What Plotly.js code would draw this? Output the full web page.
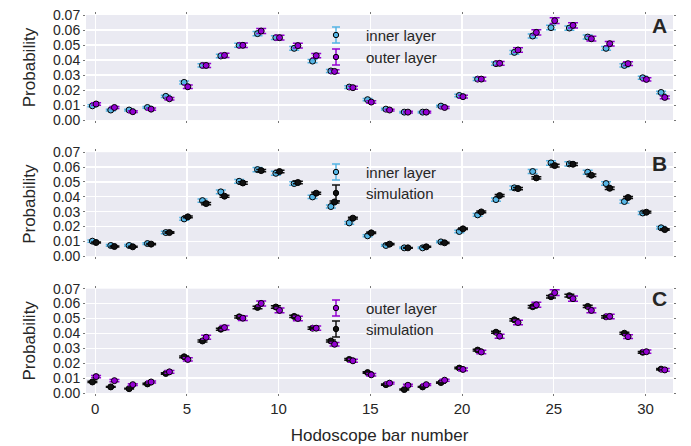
<!DOCTYPE html>
<html>
<head>
<meta charset="utf-8">
<script src="https://cdn.plot.ly/plotly-3.0.1.min.js"></script>
<style>html,body{margin:0;padding:0;background:#fff;}#chart{width:691px;height:446px;}</style>
</head>
<body>
<div id="chart"></div>
<script>
// Hodoscope bar numbers
const bars = [0,1,2,3,4,5,6,7,8,9,10,11,12,13,14,15,16,17,18,19,20,21,22,23,24,25,26,27,28,29,30,31];
const xTicks = [0,5,10,15,20,25,30];
const yTicks = [0,0.01,0.02,0.03,0.04,0.05,0.06,0.07];
const panelLetters = ["A","B","C"];

// Panel A
const innerA = [0.0095,0.0067,0.0067,0.0084,0.0158,0.0251,0.0364,0.0427,0.0498,0.0576,0.0549,0.0478,0.0393,0.0327,0.0220,0.0136,0.0073,0.0053,0.0053,0.0093,0.0164,0.0273,0.0376,0.0451,0.0560,0.0616,0.0613,0.0553,0.0478,0.0364,0.0282,0.0184];
const innerAErr = [0.0007,0.0006,0.0006,0.0006,0.0008,0.0010,0.0011,0.0012,0.0013,0.0014,0.0013,0.0012,0.0011,0.0010,0.0009,0.0007,0.0006,0.0005,0.0005,0.0006,0.0008,0.0010,0.0011,0.0012,0.0014,0.0015,0.0014,0.0013,0.0012,0.0011,0.0010,0.0008];
const outerA = [0.0107,0.0084,0.0056,0.0073,0.0142,0.0222,0.0364,0.0431,0.0498,0.0593,0.0549,0.0496,0.0429,0.0324,0.0216,0.0120,0.0067,0.0053,0.0053,0.0084,0.0156,0.0273,0.0378,0.0467,0.0584,0.0662,0.0631,0.0542,0.0509,0.0376,0.0271,0.0151];
const outerAErr = [0.0008,0.0007,0.0006,0.0007,0.0009,0.0011,0.0013,0.0014,0.0015,0.0017,0.0016,0.0015,0.0014,0.0012,0.0010,0.0008,0.0006,0.0006,0.0006,0.0007,0.0009,0.0012,0.0013,0.0015,0.0017,0.0019,0.0017,0.0016,0.0015,0.0013,0.0011,0.0009];

// Panel B
const innerB = [0.0101,0.0072,0.0072,0.0085,0.0159,0.0251,0.0374,0.0433,0.0504,0.0583,0.0558,0.0489,0.0399,0.0334,0.0224,0.0137,0.0072,0.0056,0.0056,0.0096,0.0166,0.0278,0.0381,0.0460,0.0570,0.0628,0.0621,0.0565,0.0489,0.0368,0.0291,0.0191];
const innerBErr = [0.0007,0.0006,0.0006,0.0006,0.0008,0.0010,0.0011,0.0012,0.0013,0.0014,0.0013,0.0012,0.0011,0.0010,0.0009,0.0007,0.0006,0.0005,0.0005,0.0006,0.0008,0.0010,0.0011,0.0012,0.0014,0.0015,0.0014,0.0013,0.0012,0.0011,0.0010,0.0008];
const simB = [0.0092,0.0065,0.0063,0.0081,0.0159,0.0265,0.0354,0.0404,0.0493,0.0576,0.0570,0.0496,0.0424,0.0365,0.0256,0.0157,0.0081,0.0056,0.0063,0.0090,0.0184,0.0298,0.0408,0.0455,0.0527,0.0610,0.0619,0.0545,0.0457,0.0395,0.0296,0.0179];
const simBErr = [0.0004,0.0003,0.0003,0.0004,0.0005,0.0006,0.0007,0.0007,0.0008,0.0008,0.0008,0.0008,0.0007,0.0007,0.0006,0.0005,0.0004,0.0003,0.0003,0.0004,0.0005,0.0006,0.0007,0.0008,0.0008,0.0009,0.0009,0.0008,0.0008,0.0007,0.0006,0.0005];

// Panel C
const simC = [0.0074,0.0041,0.0029,0.0061,0.0131,0.0243,0.0349,0.0428,0.0511,0.0574,0.0577,0.0514,0.0435,0.0349,0.0225,0.0137,0.0056,0.0023,0.0041,0.0070,0.0167,0.0288,0.0408,0.0491,0.0579,0.0646,0.0653,0.0581,0.0511,0.0401,0.0273,0.0160];
const simCErr = [0.0004,0.0003,0.0003,0.0004,0.0005,0.0006,0.0007,0.0007,0.0008,0.0008,0.0008,0.0008,0.0007,0.0007,0.0006,0.0005,0.0004,0.0003,0.0003,0.0004,0.0005,0.0006,0.0007,0.0008,0.0008,0.0009,0.0009,0.0008,0.0008,0.0007,0.0006,0.0005];
const outerC = [0.0110,0.0083,0.0056,0.0074,0.0142,0.0225,0.0374,0.0439,0.0502,0.0601,0.0554,0.0500,0.0435,0.0327,0.0216,0.0122,0.0066,0.0052,0.0056,0.0086,0.0158,0.0275,0.0381,0.0473,0.0592,0.0673,0.0633,0.0554,0.0514,0.0378,0.0277,0.0155];
const outerCErr = [0.0008,0.0007,0.0006,0.0007,0.0009,0.0011,0.0013,0.0014,0.0015,0.0017,0.0016,0.0015,0.0014,0.0012,0.0010,0.0008,0.0006,0.0006,0.0006,0.0007,0.0009,0.0012,0.0013,0.0015,0.0017,0.0019,0.0017,0.0016,0.0015,0.0013,0.0011,0.0009];

const CYAN = '#55B5E5', PURPLE = '#9400D3', BLACK = '#111111';
const TEXT = '#262626';
const FONT = 'Liberation Sans, Arial, sans-serif';

function series(xs, ys, errs, color, shift, ax) {
  return {
    type: 'scatter', mode: 'markers',
    x: xs.map(v => v + shift), y: ys,
    xaxis: 'x' + ax, yaxis: 'y' + ax,
    marker: {symbol: 'circle', size: 6, color: color, line: {color: '#000', width: 1}},
    error_y: {type: 'data', array: errs, visible: true, color: color, thickness: 1.5, width: 5},
    showlegend: false, hoverinfo: 'x+y'
  };
}

const data = [
  series(bars, innerA, innerAErr, CYAN, -0.15, ''),
  series(bars, outerA, outerAErr, PURPLE, 0.05, ''),
  series(bars, innerB, innerBErr, CYAN, -0.15, '2'),
  series(bars, simB, simBErr, BLACK, 0.05, '2'),
  series(bars, simC, simCErr, BLACK, -0.15, '3'),
  series(bars, outerC, outerCErr, PURPLE, 0.05, '3')
];

const W = 691, H = 446, ML = 86, MR = 18, MT = 15, MB = 53;
const PW = W - ML - MR, PH = H - MT - MB;
const px = x => (x - ML) / PW;
const py = y => (H - MB - y) / PH;

function xaxis(showLabels, anchor) {
  return {
    range: [-0.5, 31.5], tickvals: xTicks, showticklabels: showLabels,
    showgrid: true, gridcolor: '#ffffff', gridwidth: 1.3, zeroline: false,
    ticks: 'outside', ticklen: 2, tickcolor: '#777', mirror: 'ticks', showline: false,
    tickfont: {family: FONT, size: 15, color: TEXT},
    anchor: anchor
  };
}
function yaxis(domain, anchor) {
  return {
    domain: domain, range: [0, 0.07], tickvals: yTicks, tickformat: '.2f',
    showgrid: true, gridcolor: '#ffffff', gridwidth: 1.3, zeroline: false,
    ticks: 'outside', ticklen: 2, tickcolor: '#777', mirror: 'ticks', showline: false,
    tickfont: {family: FONT, size: 14, color: TEXT},
    title: {text: 'Probability', font: {family: FONT, size: 17, color: TEXT}, standoff: 12},
    anchor: anchor
  };
}

const shapes = [];
const annotations = [];
// legend icons (error bar + marker) and labels
const legends = [
  {cy: 35, color: CYAN, label: 'inner layer'},
  {cy: 57, color: PURPLE, label: 'outer layer'},
  {cy: 172, color: CYAN, label: 'inner layer'},
  {cy: 193, color: BLACK, label: 'simulation'},
  {cy: 308, color: PURPLE, label: 'outer layer'},
  {cy: 329, color: BLACK, label: 'simulation'}
];
legends.forEach(l => {
  const cx = 336, h = 8, cw = 4;
  const ln = {color: l.color, width: 1.5};
  shapes.push({type: 'line', xref: 'paper', yref: 'paper', x0: px(cx), x1: px(cx), y0: py(l.cy - h), y1: py(l.cy + h), line: ln});
  shapes.push({type: 'line', xref: 'paper', yref: 'paper', x0: px(cx - cw), x1: px(cx + cw), y0: py(l.cy - h), y1: py(l.cy - h), line: ln});
  shapes.push({type: 'line', xref: 'paper', yref: 'paper', x0: px(cx - cw), x1: px(cx + cw), y0: py(l.cy + h), y1: py(l.cy + h), line: ln});
  shapes.push({type: 'circle', xref: 'paper', yref: 'paper', x0: px(cx - 2.7), x1: px(cx + 2.7), y0: py(l.cy - 2.7), y1: py(l.cy + 2.7), fillcolor: l.color, line: {color: '#000', width: 1}});
  annotations.push({xref: 'paper', yref: 'paper', x: px(364), y: py(l.cy), xanchor: 'left', yanchor: 'middle', text: l.label, showarrow: false,
    font: {family: FONT, size: 15, color: TEXT}});
});
const letterY = [26, 163, 298];
panelLetters.forEach((t, i) => {
  annotations.push({xref: 'paper', yref: 'paper', x: px(669), y: py(letterY[i]), xanchor: 'right', yanchor: 'middle', text: '<b>' + t + '</b>', showarrow: false,
    font: {family: FONT, size: 21, color: TEXT}});
});

const layout = {
  width: W, height: H,
  margin: {l: ML, r: MR, t: MT, b: MB},
  paper_bgcolor: '#ffffff', plot_bgcolor: '#EAEAF2',
  showlegend: false,
  xaxis: xaxis(false, 'y'),
  xaxis2: xaxis(false, 'y2'),
  xaxis3: Object.assign(xaxis(true, 'y3'), {title: {text: 'Hodoscope bar number', font: {family: FONT, size: 17, color: TEXT}, standoff: 13}}),
  yaxis: yaxis([0.722, 1], 'x'),
  yaxis2: yaxis([0.362, 0.637], 'x2'),
  yaxis3: yaxis([0, 0.276], 'x3'),
  shapes: shapes,
  annotations: annotations
};

Plotly.newPlot('chart', data, layout, {displayModeBar: false, staticPlot: true});
</script>
</body>
</html>
